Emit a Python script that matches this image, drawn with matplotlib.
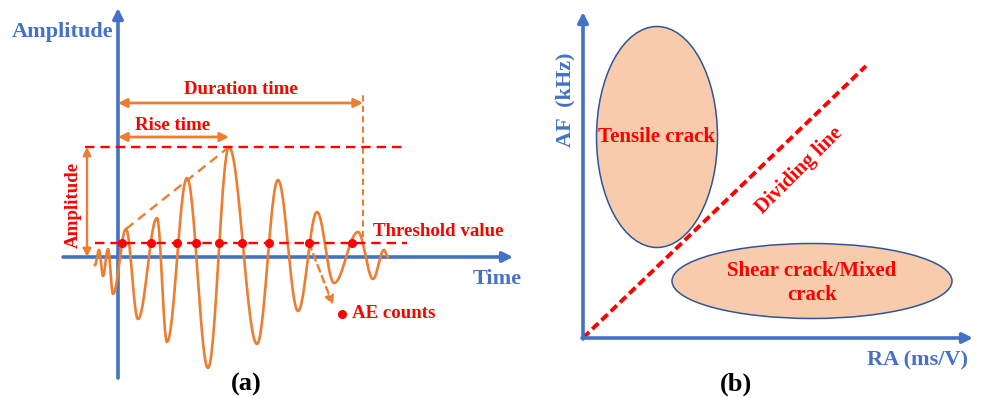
# AE parameter sketch: (a) waveform features, (b) RA-AF crack classification
import numpy as np
import matplotlib.pyplot as plt
from matplotlib.patches import Ellipse

plt.rcParams['font.family'] = ['Liberation Serif', 'DejaVu Serif']
plt.rcParams['font.weight'] = 'bold'

BLUE = '#4472C4'
ORANGE = '#ED7D31'
RED = '#FF0000'
PEACH = '#F8CBAD'
EDGE = '#2F5597'

# waveform extrema (time, amplitude), relative to the origin of panel (a)
wave_t = [-23, -19, -15, -10, -5, 8, 20, 39, 49, 69, 90, 111, 139, 160, 180, 199, 216, 240, 255, 266, 270]
wave_a = [-8, 7, -19, 8, -37, 28, -62, 39, -85, 79, -111, 110, -87, 77, -54, 45, -26, 25, -22, 7, 0]
threshold = 14
peak_amp = 110
count_t = [4, 33, 59, 78, 101, 124, 151, 191, 234]   # threshold crossings marked as counts
rise_t = 111
duration_t = 245

# panel (b) regions: (centre RA, centre AF, width, height) relative to origin
tensile = (74, 201, 121, 221)
shear = (229, 57, 280, 75)
divider = ([0, 283], [0, 272])

fig = plt.figure(figsize=(9.81, 3.98), dpi=100)
ax = fig.add_axes([0, 0, 1, 1])
ax.set_xlim(0, 981)
ax.set_ylim(398, 0)
ax.axis('off')


def arrow(p0, p1, color, style='-|>', lw=2.2, ms=16, ls='-'):
    ax.annotate('', xy=p1, xytext=p0,
                arrowprops=dict(arrowstyle=style, color=color, lw=lw, linestyle=ls,
                                mutation_scale=ms, shrinkA=0, shrinkB=0))


# ---------------- panel (a) ----------------
ox, oy = 118, 257


def A(t, a):
    return ox + np.asarray(t, dtype=float), oy - np.asarray(a, dtype=float)


# smooth wave through extrema with half-cosine pieces
tt, aa = [], []
for i in range(len(wave_t) - 1):
    s = np.linspace(0, 1, 30)
    tt.append(wave_t[i] + s * (wave_t[i + 1] - wave_t[i]))
    aa.append(wave_a[i] + (wave_a[i + 1] - wave_a[i]) * (1 - np.cos(np.pi * s)) / 2)
x, y = A(np.concatenate(tt), np.concatenate(aa))

arrow((ox, 378), (ox, 8), BLUE, lw=2.6, ms=15)
arrow((63, oy), (513, oy), BLUE, lw=2.6, ms=15)
ax.plot(x, y, color=ORANGE, lw=1.9, zorder=3)

# threshold / peak levels
ax.plot(*A([-23, 289], [threshold, threshold]), color=RED, lw=1.7, ls=(0, (4, 2.5)), zorder=4)
ax.plot(*A([-33, 289], [peak_amp, peak_amp]), color=RED, lw=1.7, ls=(0, (4, 2.5)), zorder=4)
cx, cy = A(count_t, [threshold] * len(count_t))
ax.plot(cx, cy, 'o', color=RED, ms=5.5, zorder=5)

# rise-time envelope and end of duration
ax.plot(*A([wave_t[5], wave_t[11]], [wave_a[5], wave_a[11]]), color=ORANGE, lw=1.7, ls=(0, (4, 2.5)))
ax.plot(*A([duration_t, duration_t], [threshold + 6, 165]), color=ORANGE, lw=1.5, ls=(0, (3, 2)))

arrow(A(0, 120), A(rise_t, 120), ORANGE, style='<|-|>', lw=2, ms=13)
arrow(A(0, 154), A(duration_t, 154), ORANGE, style='<|-|>', lw=2, ms=13)
arrow(A(-31, 0), A(-31, peak_amp), ORANGE, style='<|-|>', lw=1.7, ms=12)
arrow(A(count_t[7], threshold), A(215, -48), ORANGE, lw=1.7, ms=13, ls=(0, (3, 2)))
ax.plot(342, 314, 'o', color=RED, ms=5.5)

ax.text(12, 32, 'Amplitude', color=BLUE, fontsize=16, va='center', ha='left')
ax.text(497, 279, 'Time', color=BLUE, fontsize=16, va='center', ha='center')
ax.text(241, 89, 'Duration time', color=RED, fontsize=13.6, va='center', ha='center')
ax.text(173, 126, 'Rise time', color=RED, fontsize=13.6, va='center', ha='center')
ax.text(373, 231, 'Threshold value', color=RED, fontsize=13.6, va='center', ha='left')
ax.text(352, 314, 'AE counts', color=RED, fontsize=13.6, va='center', ha='left')
ax.text(73, 205, 'Amplitude', color=RED, fontsize=13.6, va='center', ha='center', rotation=90)
ax.text(246, 384, '(a)', color='black', fontsize=19, va='center', ha='center')

# ---------------- panel (b) ----------------
bx, by = 583, 338


def B(r, f):
    return bx + np.asarray(r, dtype=float), by - np.asarray(f, dtype=float)


for c_r, c_f, w, h in (tensile, shear):
    ax.add_patch(Ellipse(B(c_r, c_f), w, h, facecolor=PEACH, edgecolor=EDGE, lw=1.1, zorder=2))

ax.plot(*B(*divider), color=RED, lw=2.8, ls=(0, (2.2, 1.1)), zorder=3)
arrow((bx, by + 1), (bx, 12), BLUE, lw=2.6, ms=15)
arrow((bx - 1, by), (973, by), BLUE, lw=2.6, ms=15)

ax.text(*B(tensile[0], tensile[1]), 'Tensile crack', color=RED, fontsize=15, va='center', ha='center', zorder=4)
ax.text(*B(shear[0], shear[1] - 2), 'Shear crack/Mixed\ncrack', color=RED, fontsize=15, va='center',
        ha='center', linespacing=1.32, zorder=4)
ax.text(799, 171, 'Dividing line', color=RED, fontsize=15, va='center', ha='center', rotation=45)
ax.text(565, 100, 'AF  (kHz)', color=BLUE, fontsize=16, va='center', ha='center', rotation=90)
ax.text(968, 360, 'RA (ms/V)', color=BLUE, fontsize=16, va='center', ha='right')
ax.text(736, 384, '(b)', color='black', fontsize=19, va='center', ha='center')

fig.savefig('out.png', dpi=100)
